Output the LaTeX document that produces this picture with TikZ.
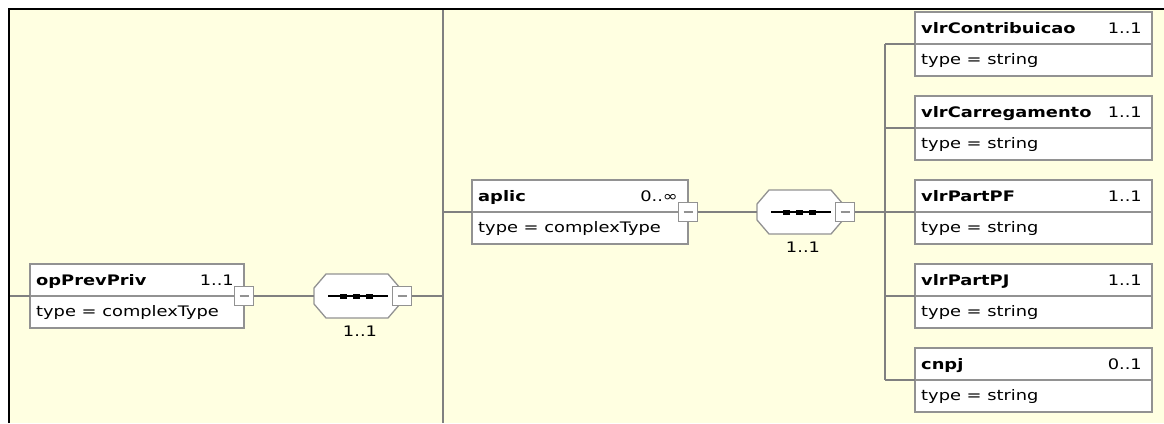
\documentclass[tikz,border=0pt]{standalone}
\usepackage{fontspec}
\newfontfamily\xsdreg{DejaVu Sans}[FakeStretch=1.23]
\newfontfamily\xsdbold{DejaVu Sans}[FakeStretch=1.23]
\definecolor{bgyellow}{RGB}{255,255,225}
\definecolor{linegray}{RGB}{128,128,128}
\definecolor{boxgray}{RGB}{146,146,146}

\tikzset{
  elbox/.style={draw=boxgray, line width=1.3pt, fill=white, inner sep=0pt, outer sep=0pt, minimum height=64pt},
  boxline/.style={draw=boxgray, line width=1.3pt},
  titletext/.style={anchor=base west, inner sep=0pt, font=\xsdbold\bfseries\fontsize{14.5}{16}\selectfont},
  multtext/.style={anchor=base east, inner sep=0pt, font=\xsdreg\fontsize{14.5}{16}\selectfont},
  typetext/.style={anchor=base west, inner sep=0pt, font=\xsdreg\fontsize{14.5}{16}\selectfont},
  cardtext/.style={anchor=base, inner sep=0pt, font=\xsdreg\fontsize{14.5}{16}\selectfont},
  minusbox/.style={draw=boxgray, line width=1.2pt, fill=white, minimum width=19pt, minimum height=19pt, inner sep=0pt, outer sep=0pt},
  minusline/.style={draw=boxgray, line width=1.2pt},
  seqframe/.style={minimum width=86pt, minimum height=44pt, inner sep=0pt, outer sep=0pt},
  seqline/.style={draw=black, line width=1.4pt},
  conn/.style={draw=linegray, line width=1.1pt},
}

% name, x0, y0, width, title, multiplicity, type
\newcommand\xsdElem[7]{%
  \node[elbox, minimum width=#4] (#1) at ({#2+#4/2},{#3+32}) {};
  \draw[boxline] (#1.west) -- (#1.east);
  \node[titletext] (#1-title) at ({#2+6},{#3+21}) {#5};
  \node[multtext] (#1-mult) at ({#2+#4-10},{#3+21}) {#6};
  \node[typetext] (#1-type) at ({#2+6},{#3+52}) {#7};
}
\newcommand\xsdMinus[2]{% name, position
  \node[minusbox] (#1) at (#2) {};
  \draw[minusline] ([xshift=-4.5pt]#1.center) -- ([xshift=4.5pt]#1.center);
}
% name, cx, cy
\newcommand\xsdSeq[3]{%
  \node[seqframe] (#1) at (#2,#3) {};
  \draw[boxline, fill=white] ({#2-43},{#3-8}) -- ({#2-31},{#3-22}) -- ({#2+31},{#3-22}) -- ({#2+43},{#3-8})
     -- ({#2+43},{#3+8}) -- ({#2+31},{#3+22}) -- ({#2-31},{#3+22}) -- ({#2-43},{#3+8}) -- cycle;
  \draw[seqline] ({#2-29},#3) -- ({#2+31},#3);
  \fill[black] ({#2-17.5},{#3-2.5}) rectangle ({#2-10.5},{#3+2.5});
  \fill[black] ({#2-4.5},{#3-2.5}) rectangle ({#2+2.5},{#3+2.5});
  \fill[black] ({#2+8.5},{#3-2.5}) rectangle ({#2+15.5},{#3+2.5});
  \node[cardtext] (#1-card) at ({#2+3},{#3+40}) {1..1};
}

\begin{document}
\begin{tikzpicture}[x=1pt, y=-1pt]
  \useasboundingbox (0,0) rectangle (1164,423);
  \fill[white] (0,0) rectangle (1164,423);
  \fill[bgyellow] (10,10) rectangle (1164,423);
  \draw[black, line width=2.5pt] (8.75,423) -- (8.75,8.75) -- (1164,8.75);

  % vertical connectors (behind)
  \coordinate (v1top) at (443,10);
  \coordinate (v1bot) at (443,423);
  \draw[conn] (v1top) -- (v1bot);
  \coordinate (v2top) at (885,44);
  \coordinate (v2bot) at (885,380);
  \draw[conn] (v2top) -- (v2bot);

  % elements
  \xsdElem{op}{30}{264}{214}{opPrevPriv}{1..1}{type = complexType}
  \xsdMinus{op-m}{op.east}
  \xsdSeq{s1}{357}{296}
  \xsdMinus{s1-m}{[xshift=2pt]s1.east}

  \xsdElem{aplic}{472}{180}{216}{aplic}{0..∞}{type = complexType}
  \xsdMinus{aplic-m}{aplic.east}
  \xsdSeq{s2}{800}{212}
  \xsdMinus{s2-m}{[xshift=2pt]s2.east}

  \xsdElem{c1}{915}{12}{237}{vlrContribuicao}{1..1}{type = string}
  \xsdElem{c2}{915}{96}{237}{vlrCarregamento}{1..1}{type = string}
  \xsdElem{c3}{915}{180}{237}{vlrPartPF}{1..1}{type = string}
  \xsdElem{c4}{915}{264}{237}{vlrPartPJ}{1..1}{type = string}
  \xsdElem{c5}{915}{348}{237}{cnpj}{0..1}{type = string}

  % horizontal connectors
  \coordinate (leftedge) at (10,296);
  \draw[conn] (leftedge) -- (op.west);
  \draw[conn] (op-m.east) -- (s1.west);
  \coordinate (v1a) at (443,296);
  \draw[conn] (s1-m.east) -- (v1a);
  \coordinate (v1b) at (443,212);
  \draw[conn] (v1b) -- (aplic.west);
  \draw[conn] (aplic-m.east) -- (s2.west);
  \coordinate (v2a) at (885,212);
  \draw[conn] (s2-m.east) -- (v2a);
  \foreach \c in {c1,c2,c3,c4,c5} {
    \draw[conn] (\c.west -| v2a) -- (\c.west);
  }
\end{tikzpicture}
\end{document}
